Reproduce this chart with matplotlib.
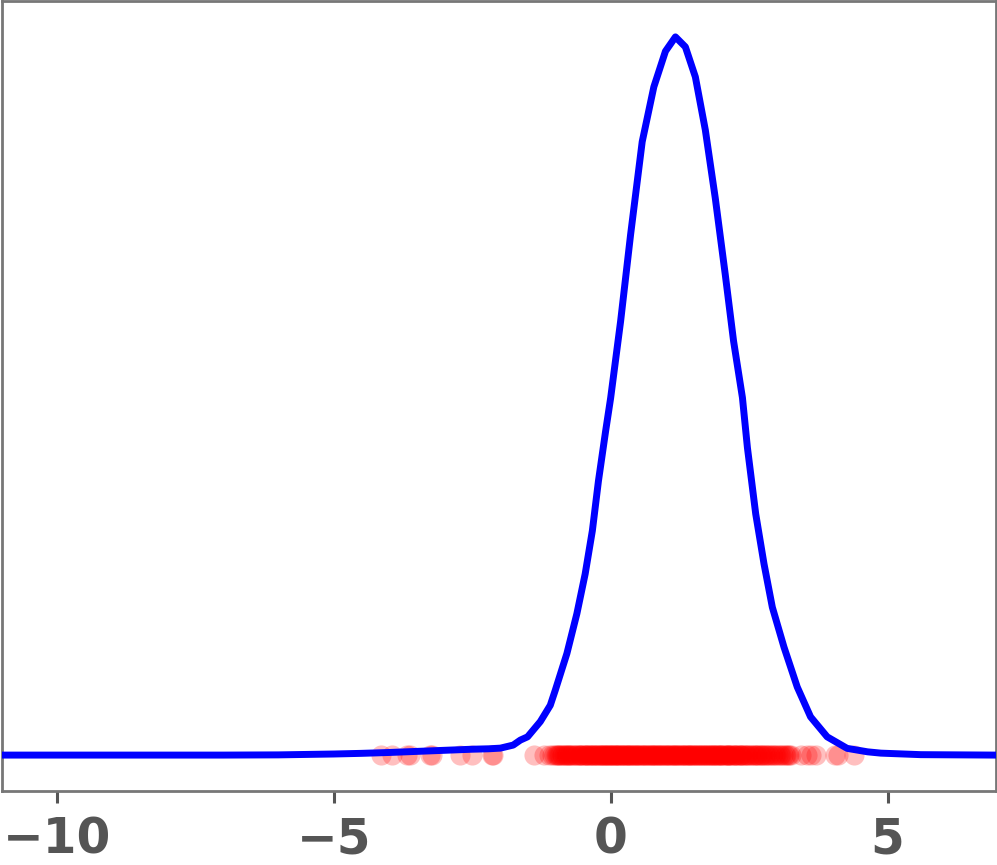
import numpy as np
import matplotlib
matplotlib.use("Agg")
import matplotlib.pyplot as plt

# density curve
curve_x = [-11.0, -7.0, -6.0, -5.0, -4.5, -4.0, -3.5, -3.0, -2.5, -2.2,
           -1.99, -1.76, -1.63, -1.50, -1.27, -1.09, -1.00, -0.79, -0.61, -0.46,
           -0.33, -0.22, -0.09, 0.00, 0.18, 0.36, 0.57, 0.78, 0.99, 1.17,
           1.35, 1.53, 1.71, 1.89, 2.07, 2.22, 2.38, 2.47, 2.62, 2.77,
           2.92, 3.13, 3.37, 3.61, 3.91, 4.27, 4.64, 4.88, 5.60, 6.95]
curve_y = [0, 0, 0.0001, 0.0005, 0.0008, 0.0012, 0.0017, 0.0022, 0.0027, 0.0029,
           0.0032, 0.0046, 0.0069, 0.0084, 0.0154, 0.0229, 0.0298, 0.0467, 0.0650, 0.0833,
           0.1032, 0.1261, 0.1491, 0.1642, 0.1995, 0.2393, 0.2821, 0.3073, 0.3237, 0.3303,
           0.3257, 0.3119, 0.2875, 0.2561, 0.2210, 0.1904, 0.1644, 0.1414, 0.1109, 0.0879,
           0.0680, 0.0497, 0.0313, 0.0176, 0.0084, 0.0031, 0.0015, 0.0009, 0.0002, 0]

# sample points shown as a rug along y = 0
samples_tail = [-4.14, -3.94, -3.67, -3.62, -3.26, -3.22, -2.72, -2.50, -2.15, -2.12,
                -1.38, -1.21, 3.43, 3.55, 3.62, 3.70, 4.06, 4.11, 4.39]
samples_core = [-1.12, -1.05, -0.98, -0.93, -0.88, -0.84, -0.80, -0.75,
                -0.71, -0.66, -0.62, -0.58, -0.55, -0.51, -0.47, -0.44, -0.40, -0.37,
                -0.33, -0.30, -0.27, -0.24, -0.20, -0.17, -0.14, -0.11, -0.08, -0.05,
                -0.02, 0.01, 0.04, 0.07, 0.10, 0.13, 0.15, 0.18, 0.21, 0.24,
                0.26, 0.29, 0.32, 0.34, 0.37, 0.40, 0.42, 0.45, 0.48, 0.50,
                0.53, 0.56, 0.58, 0.61, 0.64, 0.66, 0.69, 0.72, 0.74, 0.77,
                0.80, 0.82, 0.85, 0.88, 0.90, 0.93, 0.96, 0.98, 1.01, 1.04,
                1.06, 1.09, 1.12, 1.14, 1.17, 1.20, 1.22, 1.25, 1.28, 1.30,
                1.33, 1.36, 1.38, 1.41, 1.44, 1.46, 1.49, 1.52, 1.55, 1.58,
                1.61, 1.64, 1.67, 1.70, 1.73, 1.76, 1.79, 1.82, 1.85, 1.89,
                1.92, 1.95, 1.99, 2.02, 2.06, 2.10, 2.14, 2.18, 2.22, 2.26,
                2.31, 2.36, 2.41, 2.46, 2.52, 2.58, 2.64, 2.71, 2.78, 2.86,
                2.94, 3.03, 3.12, 3.20, 3.25,
                -1.02, -0.97, -0.95, -0.91, -0.87, -0.83, -0.79, -0.77, -0.73, -0.69,
                -0.64, -0.60, -0.56, -0.53, -0.49, -0.45, -0.42, -0.38, -0.35, -0.31,
                -0.28, -0.25, -0.21, -0.18, -0.15, -0.12, -0.09, -0.06, -0.03, 0.00,
                0.03, 0.06, 0.09, 0.12, 0.16, 0.20, 0.23, 0.27, 0.31, 0.35,
                0.39, 0.43, 0.47, 0.52, 0.57, 0.62, 0.67, 0.71, 0.76, 0.81,
                0.86, 0.91, 0.95, 1.00, 1.05, 1.10, 1.15, 1.19, 1.24, 1.29,
                1.34, 1.39, 1.43, 1.48, 1.53, 1.57, 1.62, 1.66, 1.71, 1.75,
                1.80, 1.84, 1.87, 1.91, 1.94, 1.97, 2.00, 2.04, 2.08, 2.12,
                2.16, 2.20, 2.24, 2.28, 2.33, 2.38, 2.43, 2.48, 2.54, 2.60,
                2.66, 2.73, 2.80, 2.88, 2.97, 3.06, 3.15, 2.12, 2.24, 2.35,
                2.44, 2.55, 2.62, 2.69, 2.75, 2.83, 2.91, 2.99, 3.08, 3.17, 3.22]
samples = samples_tail + samples_core

fig = plt.figure(figsize=(9.97, 8.65), dpi=100)
ax = fig.add_axes([1.5 / 997, 74 / 865, 994 / 997, 790 / 865])

ax.scatter(samples, np.zeros(len(samples)), s=210, color="red", alpha=0.25,
           linewidths=0, zorder=2)
ax.plot(curve_x, curve_y, color="blue", linewidth=5, zorder=3)

ax.set_xlim(-11.0, 6.95)
ax.set_xticks([-10, -5, 0, 5])
ax.set_yticks([])

for side in ax.spines.values():
    side.set_color("#777777")
    side.set_linewidth(2)

ax.tick_params(axis="x", length=8.5, width=2.2, color="#555555",
               labelcolor="#555555", labelsize=35, pad=9)
for lab in ax.get_xticklabels():
    lab.set_fontweight("bold")

fig.savefig("out.png", dpi=100)
